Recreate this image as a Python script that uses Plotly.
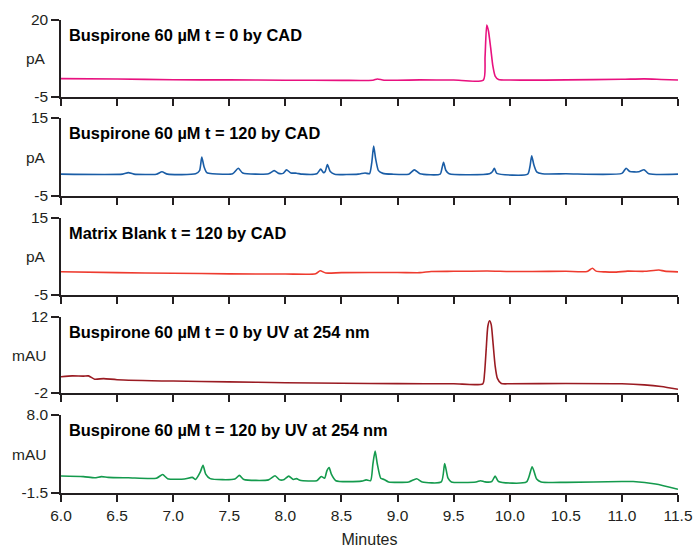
import plotly.graph_objects as go

# ---------------- data ----------------
panel_titles = [
    "Buspirone 60 µM t = 0 by CAD",
    "Buspirone 60 µM t = 120 by CAD",
    "Matrix Blank t = 120 by CAD",
    "Buspirone 60 µM t = 0 by UV at 254 nm",
    "Buspirone 60 µM t = 120 by UV at 254 nm",
]
units = ["pA", "pA", "pA", "mAU", "mAU"]
y_ranges = [[-5, 20], [-5, 15], [-5, 15], [-2, 12], [-1.5, 8]]
y_tick_vals = [[-5, 20], [-5, 15], [-5, 15], [-2, 12], [-1.5, 8]]
y_tick_text = [["-5", "20"], ["-5", "15"], ["-5", "15"], ["-2", "12"], ["-1.5", "8.0"]]
colors = ["#E8117F", "#1A5DA6", "#EE3B2F", "#9A1B22", "#149A4D"]
x_ticks = [6.0, 6.5, 7.0, 7.5, 8.0, 8.5, 9.0, 9.5, 10.0, 10.5, 11.0, 11.5]

t_cad0 = [6.0, 6.5, 7.0, 7.5, 8.0, 8.5, 8.78, 8.82, 8.88, 9.2, 9.5, 9.765,
          9.78, 9.795, 9.81, 9.83, 9.85, 9.87, 9.9, 10.0, 10.5, 11.0, 11.2, 11.35, 11.5]
y_cad0 = [0.95, 0.85, 0.6, 0.55, 0.45, 0.4, 0.45, 0.85, 0.45, 0.55, 0.5, 0.5,
          8.0, 18.4, 16.5, 11.0, 5.0, 1.8, 0.7, 0.5, 0.55, 0.75, 0.9, 0.7, 0.5]

t_cad120 = [6.0, 6.55, 6.6, 6.65, 6.85, 6.9, 6.95, 7.2, 7.235, 7.255, 7.275, 7.3, 7.35,
            7.53, 7.58, 7.62, 7.85, 7.9, 7.94, 7.98, 8.01, 8.05, 8.1, 8.15, 8.28, 8.315,
            8.34, 8.355, 8.375, 8.4, 8.44, 8.65, 8.71, 8.75, 8.77, 8.787, 8.805, 8.83,
            8.87, 8.95, 9.1, 9.15, 9.2, 9.38, 9.395, 9.41, 9.43, 9.46, 9.82, 9.845,
            9.863, 9.885, 10.16, 10.18, 10.196, 10.215, 10.24, 10.29, 10.5, 11.0,
            11.037, 11.07, 11.15, 11.197, 11.24, 11.5]
y_cad120 = [0.6, 0.6, 1.0, 0.6, 0.6, 1.2, 0.6, 0.7, 1.5, 5.0, 2.5, 1.0, 0.7,
            0.7, 2.1, 0.9, 0.7, 1.5, 0.8, 0.8, 1.7, 0.9, 0.85, 0.6, 0.7, 1.9,
            1.0, 1.3, 3.05, 1.3, 0.6, 0.6, 0.9, 0.7, 3.5, 7.8, 4.5, 1.5,
            0.8, 0.6, 0.6, 1.7, 0.7, 0.6, 2.0, 3.65, 1.6, 0.7, 0.7, 1.2,
            2.1, 0.8, 0.6, 2.5, 5.3, 3.0, 1.2, 0.7, 0.7, 0.8,
            2.1, 1.3, 1.2, 1.75, 0.7, 0.6]

t_blank = [6.0, 6.5, 7.0, 7.5, 8.0, 8.27, 8.31, 8.36, 8.5, 9.0, 9.2, 9.3, 9.5, 9.8,
           10.0, 10.2, 10.5, 10.69, 10.737, 10.77, 10.85, 10.95, 11.05, 11.2, 11.33,
           11.38, 11.5]
y_blank = [1.05, 0.8, 0.65, 0.5, 0.45, 0.5, 1.3, 0.7, 0.8, 0.85, 0.8, 1.1, 1.15, 1.25,
           1.1, 1.1, 1.15, 1.1, 1.95, 1.2, 1.0, 0.95, 1.2, 1.15, 1.5,
           1.2, 1.0]

t_uv0 = [6.0, 6.1, 6.2, 6.245, 6.3, 6.38, 6.5, 7.0, 7.5, 8.0, 8.5, 9.0, 9.5, 9.76,
         9.775, 9.79, 9.805, 9.82, 9.835, 9.85, 9.87, 9.89, 9.925, 10.0, 10.5, 11.0,
         11.2, 11.35, 11.5]
y_uv0 = [1.0, 1.15, 1.1, 1.15, 0.55, 0.65, 0.45, 0.2, 0.05, -0.1, -0.2, -0.28, -0.3, -0.3,
         1.5, 6.0, 10.3, 11.3, 10.6, 7.5, 3.0, 0.7, -0.25, -0.3, -0.25, -0.3,
         -0.5, -0.8, -1.3]

t_uv120 = [6.0, 6.2, 6.3, 6.36, 6.42, 6.6, 6.85, 6.906, 6.95, 7.1, 7.17, 7.2, 7.24,
           7.266, 7.29, 7.33, 7.55, 7.59, 7.63, 7.85, 7.908, 7.95, 7.99, 8.03, 8.07,
           8.1, 8.13, 8.28, 8.32, 8.35, 8.37, 8.39, 8.41, 8.45, 8.68, 8.72, 8.76,
           8.78, 8.8, 8.82, 8.85, 8.88, 8.92, 9.1, 9.17, 9.22, 9.39, 9.42, 9.45,
           9.48, 9.7, 9.74, 9.78, 9.84, 9.87, 9.9, 10.15, 10.2, 10.24, 10.28, 10.5,
           11.0, 11.1, 11.3, 11.5]
y_uv120 = [0.57, 0.5, 0.35, 0.5, 0.4, 0.35, 0.3, 0.75, 0.25, 0.2, 0.4, 0.15, 1.0,
           1.87, 0.8, 0.25, 0.2, 0.65, 0.15, 0.1, 0.6, 0.1, 0.15, 0.55, 0.15,
           0.25, 0.05, 0.0, 0.5, 0.3, 1.2, 1.6, 0.8, 0.0, -0.05, 0.1, 0.0,
           2.0, 3.6, 2.0, 0.3, 0.15, -0.15, -0.15, 0.24, -0.15, -0.15, 2.1, 0.3,
           -0.15, -0.15, 0.0, -0.15, -0.1, 0.57, -0.1, -0.15, 1.7, 0.2, -0.15, -0.2,
           -0.1, -0.1, -0.4, -1.05]

times = [t_cad0, t_cad120, t_blank, t_uv0, t_uv120]
signals = [y_cad0, y_cad120, y_blank, y_uv0, y_uv120]

# ---------------- layout ----------------
W, H = 696, 548
m_l, m_r, m_t, m_b = 61, 18, 20, 55
plot_h = H - m_t - m_b
panel_px = [(20, 97), (118, 196), (218, 295), (317, 393), (415, 493)]
domains = [[(493 - b) / plot_h, (493 - t) / plot_h] for t, b in panel_px]

FONT = "Liberation Sans, Arial, sans-serif"
INK = "#231F20"
fig = go.Figure()
layout = dict(
    width=W, height=H,
    margin=dict(l=m_l, r=m_r, t=m_t, b=m_b, autoexpand=False),
    paper_bgcolor="white", plot_bgcolor="white",
    showlegend=False,
    font=dict(family=FONT, size=15.5, color=INK),
)
annotations = []
for i in range(5):
    n = i + 1
    xa = "x" if n == 1 else f"x{n}"
    ya = "y" if n == 1 else f"y{n}"
    fig.add_trace(go.Scatter(
        x=times[i], y=signals[i], mode="lines", xaxis=xa, yaxis=ya,
        line=dict(color=colors[i], width=1.6, shape="spline", smoothing=0.6),
        hoverinfo="skip",
    ))
    xdict = dict(
        domain=[0, 1], anchor=ya, range=[6.0, 11.5], automargin=False,
        tickvals=x_ticks, ticktext=[f"{v:.1f}" for v in x_ticks],
        showticklabels=(n == 5), ticks="outside", ticklen=7, tickwidth=2,
        tickcolor=INK, showline=True, linecolor=INK, linewidth=2,
        showgrid=False, zeroline=False,
        tickfont=dict(size=15.5, family=FONT, color=INK),
    )
    if n == 5:
        xdict["title"] = dict(text="Minutes", font=dict(size=16, family=FONT, color=INK), standoff=14)
    if n != 1:
        xdict["matches"] = "x"
    layout["xaxis" if n == 1 else f"xaxis{n}"] = xdict
    layout["yaxis" if n == 1 else f"yaxis{n}"] = dict(
        domain=domains[i], anchor=xa, range=y_ranges[i], automargin=False,
        tickvals=y_tick_vals[i], ticktext=y_tick_text[i],
        ticks="outside", ticklen=8, tickwidth=1.5, tickcolor=INK,
        showline=True, linecolor=INK, linewidth=1.5,
        showgrid=False, zeroline=False,
        tickfont=dict(size=15.5, family=FONT, color=INK),
    )
    annotations.append(dict(
        text=f"<b>{panel_titles[i]}</b>", xref=f"{xa} domain", yref=f"{ya} domain",
        x=0, y=1, xanchor="left", yanchor="middle", xshift=6, yshift=-15,
        showarrow=False, font=dict(size=16.4, family=FONT, color="#000000"),
    ))
    annotations.append(dict(
        text=units[i], xref="paper", yref=f"{ya} domain",
        x=0, y=0.5, xanchor="right", yanchor="middle", xshift=-13,
        showarrow=False, font=dict(size=15.5, family=FONT, color=INK),
    ))
layout["annotations"] = annotations
fig.update_layout(**layout)
fig.write_html("out.html")
